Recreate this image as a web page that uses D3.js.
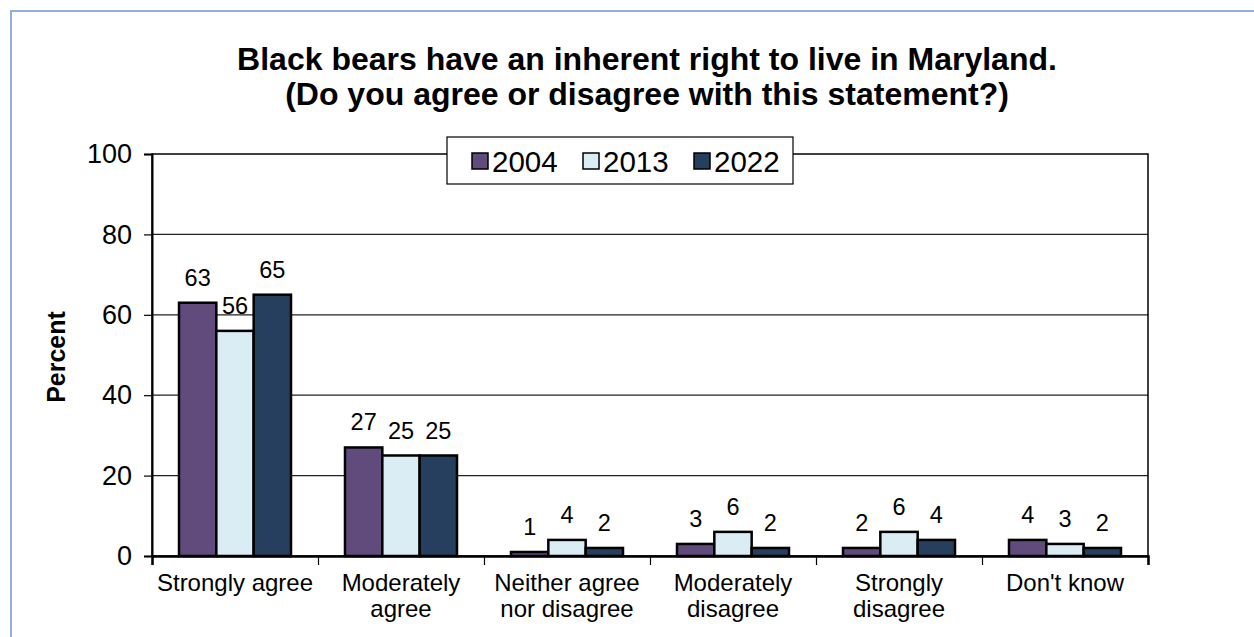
<!DOCTYPE html>
<html>
<head>
<meta charset="utf-8">
<script src="https://cdn.jsdelivr.net/npm/d3@7"></script>
<style>
  html, body { margin: 0; padding: 0; background: #fff; }
  svg { display: block; font-family: "Liberation Sans", Arial, sans-serif; }
</style>
</head>
<body>
<svg id="chart" width="1254" height="637"></svg>
<script>
// Survey responses (percent) by year
const categories = [
  ["Strongly agree"],
  ["Moderately", "agree"],
  ["Neither agree", "nor disagree"],
  ["Moderately", "disagree"],
  ["Strongly", "disagree"],
  ["Don't know"]
];
const years = ["2004", "2013", "2022"];
const values2004 = [63, 27, 1, 3, 2, 4];
const values2013 = [56, 25, 4, 6, 6, 3];
const values2022 = [65, 25, 2, 2, 4, 2];
const yTicks = [0, 20, 40, 60, 80, 100];
const colors = ["#614a7c", "#daedf4", "#263f5f"];
const titleLines = [
  "Black bears have an inherent right to live in Maryland.",
  "(Do you agree or disagree with this statement?)"
];

const series = [values2004, values2013, values2022];
const svg = d3.select("#chart");

// outer frame
svg.append("rect")
  .attr("x", 11).attr("y", 11)
  .attr("width", 1400).attr("height", 800)
  .attr("fill", "#fff")
  .attr("stroke", "#8eb0d9").attr("stroke-width", 2);

const plot = { left: 152, right: 1148, top: 154, bottom: 556 };

const x0 = d3.scaleBand()
  .domain(d3.range(categories.length))
  .range([plot.left, plot.right])
  .padding(0);
const groupW = 112;
const x1 = d3.scaleBand()
  .domain(years)
  .range([(x0.bandwidth() - groupW) / 2, (x0.bandwidth() + groupW) / 2])
  .padding(0);
const y = d3.scaleLinear().domain([0, 100]).range([plot.bottom, plot.top]);

// title
svg.append("g")
  .selectAll("text")
  .data(titleLines)
  .join("text")
  .attr("x", 647)
  .attr("y", (d, i) => 70 + i * 35)
  .attr("text-anchor", "middle")
  .attr("font-size", 32)
  .attr("font-weight", "bold")
  .attr("fill", "#000")
  .text(d => d);

// horizontal gridlines
svg.append("g")
  .selectAll("line")
  .data(yTicks.filter(t => t > 0 && t < 100))
  .join("line")
  .attr("x1", plot.left).attr("x2", plot.right)
  .attr("y1", d => y(d)).attr("y2", d => y(d))
  .attr("stroke", "#222").attr("stroke-width", 1.2);

// bars
const groups = svg.append("g")
  .selectAll("g")
  .data(categories)
  .join("g")
  .attr("transform", (d, i) => `translate(${x0(i)},0)`);

groups.selectAll("rect")
  .data((d, i) => years.map((yr, k) => ({ yr, k, v: series[k][i] })))
  .join("rect")
  .attr("x", d => x1(d.yr))
  .attr("y", d => y(d.v))
  .attr("width", x1.bandwidth())
  .attr("height", d => y(0) - y(d.v))
  .attr("fill", d => colors[d.k])
  .attr("stroke", "#000")
  .attr("stroke-width", 2.5);

groups.selectAll("text.val")
  .data((d, i) => years.map((yr, k) => ({ yr, k, v: series[k][i] })))
  .join("text")
  .attr("class", "val")
  .attr("x", d => x1(d.yr) + x1.bandwidth() / 2)
  .attr("y", d => y(d.v) - 17)
  .attr("text-anchor", "middle")
  .attr("font-size", 23.5)
  .attr("fill", "#000")
  .text(d => d.v);

// plot frame
svg.append("rect")
  .attr("x", plot.left).attr("y", plot.top)
  .attr("width", plot.right - plot.left)
  .attr("height", plot.bottom - plot.top)
  .attr("fill", "none")
  .attr("stroke", "#000").attr("stroke-width", 1.5);

// y axis
const yAxis = svg.append("g")
  .attr("transform", `translate(${plot.left},0)`)
  .call(d3.axisLeft(y).tickValues(yTicks).tickSize(8).tickPadding(12).tickFormat(d3.format("d")));
yAxis.select(".domain").attr("stroke", "#000").attr("stroke-width", 2);
yAxis.selectAll(".tick line").attr("stroke", "#000").attr("stroke-width", 1.2);
yAxis.selectAll(".tick text")
  .attr("font-size", 27)
  .attr("font-family", "'Liberation Sans', Arial, sans-serif")
  .attr("fill", "#000");

// x axis
const xTickScale = d3.scaleLinear().domain([0, categories.length]).range([plot.left, plot.right]);
const xAxis = svg.append("g")
  .attr("transform", `translate(0,${plot.bottom})`)
  .call(d3.axisBottom(xTickScale).ticks(categories.length).tickSize(9).tickFormat(""));
xAxis.select(".domain").attr("stroke", "#000").attr("stroke-width", 2.5);
xAxis.selectAll(".tick line").attr("stroke", "#000").attr("stroke-width", 1.2);

// category labels
svg.append("g")
  .selectAll("text")
  .data(categories)
  .join("text")
  .attr("x", (d, i) => x0(i) + x0.bandwidth() / 2)
  .attr("y", 591)
  .attr("text-anchor", "middle")
  .attr("font-size", 24)
  .attr("fill", "#000")
  .selectAll("tspan")
  .data(d => d)
  .join("tspan")
  .attr("x", function () { return this.parentNode.getAttribute("x"); })
  .attr("dy", (d, i) => i === 0 ? 0 : 26)
  .text(d => d);

// y axis title
svg.append("text")
  .attr("transform", "translate(65,357) rotate(-90)")
  .attr("text-anchor", "middle")
  .attr("font-size", 25)
  .attr("font-weight", "bold")
  .attr("fill", "#000")
  .text("Percent");

// legend
const legend = svg.append("g");
legend.append("rect")
  .attr("x", 447).attr("y", 137)
  .attr("width", 346).attr("height", 47)
  .attr("fill", "#fff")
  .attr("stroke", "#000").attr("stroke-width", 1.2);
const items = legend.selectAll("g.item")
  .data(years)
  .join("g")
  .attr("class", "item")
  .attr("transform", (d, i) => `translate(${472 + i * 111},0)`);
items.append("rect")
  .attr("x", 0).attr("y", 153)
  .attr("width", 16).attr("height", 16)
  .attr("fill", (d, i) => colors[i])
  .attr("stroke", "#000").attr("stroke-width", 1.5);
items.append("text")
  .attr("x", 20).attr("y", 172)
  .attr("font-size", 29.5)
  .attr("fill", "#000")
  .text(d => d);
</script>
</body>
</html>
